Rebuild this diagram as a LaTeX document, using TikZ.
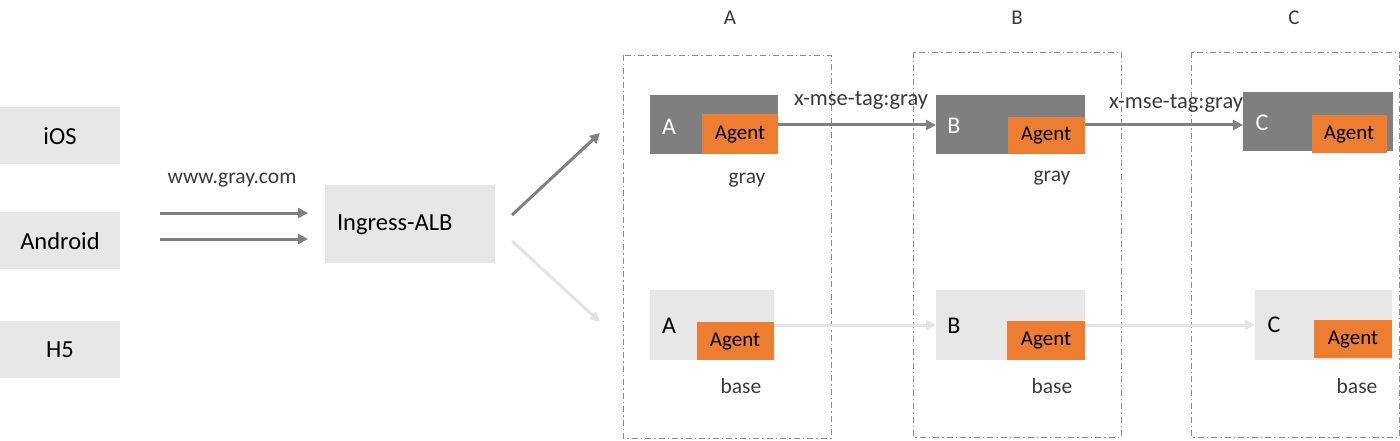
\documentclass[tikz,border=0pt]{standalone}
\usepackage{fontspec}
\setmainfont{Carlito}
\usetikzlibrary{arrows.meta}
\definecolor{dkbox}{HTML}{7F7F7F}
\definecolor{ltbox}{HTML}{E7E7E7}
\definecolor{agent}{HTML}{ED7D31}
\definecolor{arr}{HTML}{808080}
\definecolor{larr}{HTML}{E4E4E4}
\definecolor{txt}{HTML}{3A3A3A}
\definecolor{dash}{HTML}{8C8C8C}
\begin{document}
\begin{tikzpicture}[x=1pt,y=-1pt,
  box/.style={inner sep=0pt, outer sep=0pt},
  clientbox/.style={box, font=\fontsize{24.5}{28}\selectfont, text=black},
  agentbox/.style={box, font=\fontsize{21}{24}\selectfont, text=black},
  lbl/.style={font=\fontsize{21.5}{25}\selectfont, text=txt, inner sep=0pt},
  letter/.style={font=\fontsize{24}{28}\selectfont, inner sep=0pt},
  col/.style={draw=dash, line width=0.9pt, dash pattern=on 6pt off 3pt on 1.5pt off 3pt},
  darr/.style={draw=arr, line width=3pt, -{Triangle[length=10pt,width=10pt]}},
  larrow/.style={draw=larr, line width=3pt, -{Triangle[length=10pt,width=10pt]}},
]
\useasboundingbox (0,0) rectangle (1400,441);

% clients
\fill[ltbox] (0,107) rectangle (120,164);
\node[clientbox] (ios) at (60,136) {iOS};
\fill[ltbox] (0,212) rectangle (120,269);
\node[clientbox] (android) at (60,241) {Android};
\fill[ltbox] (0,321) rectangle (120,378);
\node[clientbox] (h5) at (60,350) {H5};

% ingress
\fill[ltbox] (325,185) rectangle (495,263);
\node[clientbox, anchor=west] (alb) at (337,225) {Ingress-ALB};
\coordinate (albin1) at (308,213);
\coordinate (albin2) at (308,239);
\coordinate (src1) at (160,213);
\coordinate (src2) at (160,239);
\draw[darr] (src1) -- (albin1);
\draw[darr] (src2) -- (albin2);
\node[lbl] (url) at (232,180) {www.gray.com};

\coordinate (albo1) at (512,215);
\coordinate (albo2) at (512,241);
\coordinate (up) at (600,133);
\coordinate (dn) at (600,322);
\draw[darr] (albo1) -- (up);
\draw[larrow] (albo2) -- (dn);

% columns
\draw[col] (623,55) rectangle (831,438);
\draw[col] (913,52) rectangle (1121,437);
\draw[col] (1191,52) rectangle (1399,437);
\node[lbl, font=\fontsize{21}{24}\selectfont] (la) at (730,18) {A};
\node[lbl, font=\fontsize{21}{24}\selectfont] (lb) at (1017,18) {B};
\node[lbl, font=\fontsize{21}{24}\selectfont] (lc) at (1294,18) {C};

% A gray
\fill[dkbox] (650,95) rectangle (778,154);
\fill[agent] (702,114) rectangle (778,154);
\node[agentbox] (agA) at (740,135) {Agent};
\node[letter, text=white] (Ag) at (669,127) {A};
\node[lbl] (grayA) at (747,180) {gray};
% A base
\fill[ltbox] (650,290) rectangle (774,360);
\fill[agent] (697,322) rectangle (774,360);
\node[agentbox] (agAb) at (735,342) {Agent};
\node[letter] (Ab) at (669,326) {A};
\node[lbl] (baseA) at (741,386) {base};

% B gray
\fill[dkbox] (936,95) rectangle (1085,154);
\fill[agent] (1008,117) rectangle (1085,154);
\node[agentbox] (agB) at (1046,136) {Agent};
\node[letter, text=white] (Bg) at (954,126) {B};
\node[lbl] (grayB) at (1052,178) {gray};
% B base
\fill[ltbox] (936,290) rectangle (1085,360);
\fill[agent] (1007,321) rectangle (1085,360);
\node[agentbox] (agBb) at (1046,341) {Agent};
\node[letter] (Bb) at (954,326) {B};
\node[lbl] (baseB) at (1052,386) {base};

% C gray
\fill[dkbox] (1243,92) rectangle (1393,151);
\fill[agent] (1312,115) rectangle (1387,153);
\node[agentbox] (agC) at (1349,135) {Agent};
\node[letter, text=white] (Cg) at (1262,123) {C};
% C base
\fill[ltbox] (1255,290) rectangle (1392,360);
\fill[agent] (1314,320) rectangle (1392,358);
\node[agentbox] (agCb) at (1353,340) {Agent};
\node[letter] (Cb) at (1274,325) {C};
\node[lbl] (baseC) at (1357,386) {base};

% chain arrows
\coordinate (a1) at (778,125);
\coordinate (b1) at (936,125);
\coordinate (b2) at (1085,125);
\coordinate (c1) at (1243,125);
\draw[darr] (a1) -- (b1);
\draw[darr] (b2) -- (c1);
\node[lbl, font=\fontsize{22.5}{26}\selectfont] (tag1) at (861,100) {x-mse-tag:gray};
\node[lbl, font=\fontsize{22.5}{26}\selectfont] (tag2) at (1176,103) {x-mse-tag:gray};

\coordinate (a2) at (774,325);
\coordinate (b3) at (936,325);
\coordinate (b4) at (1085,325);
\coordinate (c2) at (1255,325);
\draw[larrow] (a2) -- (b3);
\draw[larrow] (b4) -- (c2);
\end{tikzpicture}
\end{document}
